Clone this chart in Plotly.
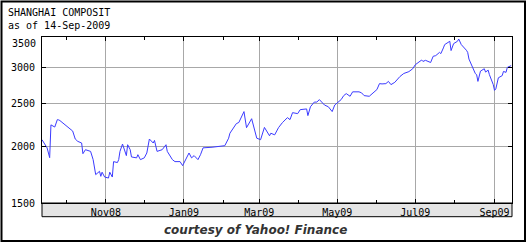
import plotly.graph_objects as go
import math

dates = [
    "2008-09-12", "2008-09-16", "2008-09-18", "2008-09-19", "2008-09-22", "2008-09-24",
    "2008-09-25", "2008-09-26", "2008-10-06", "2008-10-08", "2008-10-10", "2008-10-13",
    "2008-10-14", "2008-10-16", "2008-10-20", "2008-10-22", "2008-10-24", "2008-10-27",
    "2008-10-28", "2008-10-29", "2008-10-31", "2008-11-03", "2008-11-04", "2008-11-06",
    "2008-11-07", "2008-11-10", "2008-11-11", "2008-11-12", "2008-11-14", "2008-11-17",
    "2008-11-18", "2008-11-20", "2008-11-21", "2008-11-25", "2008-11-26", "2008-11-28",
    "2008-12-01", "2008-12-03", "2008-12-05", "2008-12-08", "2008-12-09", "2008-12-11",
    "2008-12-15", "2008-12-18", "2008-12-19", "2008-12-23", "2008-12-25", "2008-12-29",
    "2008-12-31", "2009-01-05", "2009-01-07", "2009-01-09", "2009-01-12", "2009-01-14",
    "2009-01-16", "2009-01-20", "2009-01-23", "2009-02-02", "2009-02-05", "2009-02-06",
    "2009-02-09", "2009-02-11", "2009-02-13", "2009-02-16", "2009-02-17", "2009-02-19",
    "2009-02-23", "2009-02-27", "2009-03-02", "2009-03-05", "2009-03-09", "2009-03-10",
    "2009-03-13", "2009-03-16", "2009-03-19", "2009-03-23", "2009-03-25", "2009-03-27",
    "2009-03-31", "2009-04-02", "2009-04-07", "2009-04-08", "2009-04-10", "2009-04-13",
    "2009-04-15", "2009-04-17", "2009-04-21", "2009-04-24", "2009-04-27", "2009-04-29",
    "2009-05-04", "2009-05-06", "2009-05-08", "2009-05-11", "2009-05-13", "2009-05-18",
    "2009-05-20", "2009-05-22", "2009-05-26", "2009-06-01", "2009-06-02", "2009-06-03",
    "2009-06-05", "2009-06-08", "2009-06-10", "2009-06-12", "2009-06-15", "2009-06-18",
    "2009-06-19", "2009-06-22", "2009-06-26", "2009-06-29", "2009-07-01", "2009-07-06",
    "2009-07-07", "2009-07-09", "2009-07-13", "2009-07-15", "2009-07-17", "2009-07-20",
    "2009-07-21", "2009-07-23", "2009-07-24", "2009-07-28", "2009-07-29", "2009-07-31",
    "2009-08-03", "2009-08-04", "2009-08-06", "2009-08-10", "2009-08-11", "2009-08-12",
    "2009-08-14", "2009-08-17", "2009-08-18", "2009-08-19", "2009-08-21", "2009-08-24",
    "2009-08-25", "2009-08-27", "2009-08-28", "2009-08-31", "2009-09-01", "2009-09-02",
    "2009-09-04", "2009-09-07", "2009-09-08", "2009-09-10", "2009-09-11", "2009-09-14",
]
closes = [
    2076, 1990, 1893, 2240, 2215, 2301,
    2298, 2290, 2170, 2083, 2058, 2041,
    1932, 1972, 1955, 1874, 1735, 1765,
    1720, 1757, 1714, 1705, 1757, 1714,
    1855, 1846, 1874, 1955, 2030, 1913,
    2023, 1972, 1900, 1891, 1922, 1874,
    1891, 1939, 2083, 2041, 2068, 1955,
    1972, 2023, 1955, 1874, 1855, 1855,
    1817, 1939, 1891, 1913, 1874, 1922,
    1991, 1991, 1997, 2013, 2092, 2146,
    2208, 2254, 2268, 2361, 2398, 2208,
    2312, 2092, 2076, 2211, 2118, 2146,
    2128, 2208, 2265, 2325, 2301, 2385,
    2373, 2422, 2431, 2349, 2458, 2518,
    2518, 2550, 2480, 2458, 2398, 2480,
    2550, 2603, 2630, 2594, 2654, 2654,
    2640, 2603, 2594, 2685, 2740, 2768,
    2764, 2768, 2800, 2754, 2787, 2855,
    2871, 2916, 2944, 2988, 3050, 3125,
    3102, 3120, 3085, 3185, 3196, 3250,
    3229, 3325, 3382, 3440, 3280, 3399,
    3440, 3480, 3382, 3285, 3250, 3140,
    3050, 2914, 2899, 2800, 2952, 2988,
    2937, 2967, 2898, 2754, 2674, 2694,
    2852, 2884, 2947, 2933, 3008, 3036,
]
y_ticks = [1500, 2000, 2500, 3000, 3500]
title_line1 = "SHANGHAI COMPOSIT"
title_line2 = "as of 14-Sep-2009"
caption = "courtesy of Yahoo! Finance"

W, H = 528, 243
L, R, T, B = 42, 16, 37, 40
PW, PH = W - L - R, H - T - B


def px_x(px):
    return (px - L) / PW


def px_y(py):
    return (H - B - py) / PH


MONO = "DejaVu Sans Mono"

fig = go.Figure()
fig.add_trace(go.Scatter(x=dates, y=closes, mode="lines",
                         line=dict(color="#3b3bff", width=1), hoverinfo="skip"))

# top tick label is drawn a little lower (inside the frame), as in the original
tick_text = [str(v) if v != y_ticks[-1] else "" for v in y_ticks]

fig.update_layout(
    width=W, height=H,
    margin=dict(l=L, r=R, t=T, b=B, pad=0),
    paper_bgcolor="white", plot_bgcolor="white",
    showlegend=False,
    xaxis=dict(
        type="date",
        range=["2008-09-12", "2009-09-14 16:00"],
        tick0="2008-11-01", dtick="M2", tickformat="%b%y",
        showgrid=True, gridcolor="#a8a8a8", gridwidth=1,
        ticks="inside", ticklen=4, tickcolor="black",
        showline=True, linecolor="black", linewidth=1, mirror="ticks",
        minor=dict(dtick="M1", tick0="2008-10-01", ticks="inside", ticklen=3,
                   tickcolor="black", showgrid=False),
        tickfont=dict(family=MONO, size=10, color="black"),
        ticklabelstandoff=0,
        zeroline=False,
    ),
    yaxis=dict(
        type="log",
        range=[math.log10(1500), math.log10(1500) + PH / 448.6],
        tickvals=y_ticks, ticktext=tick_text,
        showgrid=True, gridcolor="#a8a8a8", gridwidth=1,
        ticks="inside", ticklen=4, tickcolor="black",
        showline=True, linecolor="black", linewidth=1, mirror="ticks",
        tickfont=dict(family=MONO, size=10, color="black"),
        ticklabelstandoff=4,
        zeroline=False,
    ),
    shapes=[
        dict(type="rect", xref="paper", yref="paper", layer="below",
             x0=0, x1=1, y0=px_y(216.7), y1=0,
             fillcolor="#e4e4e4", line=dict(color="black", width=1)),
        dict(type="rect", xref="paper", yref="paper", layer="above",
             x0=px_x(1.5), x1=px_x(525), y0=px_y(241), y1=px_y(1.5),
             fillcolor="rgba(0,0,0,0)", line=dict(color="black", width=2)),
    ],
    annotations=[
        dict(text=title_line1, xref="paper", yref="paper", x=px_x(6), y=px_y(13),
             xanchor="left", yanchor="middle", showarrow=False,
             font=dict(family=MONO, size=10, color="black")),
        dict(text=title_line2, xref="paper", yref="paper", x=px_x(6), y=px_y(25),
             xanchor="left", yanchor="middle", showarrow=False,
             font=dict(family=MONO, size=10, color="black")),
        dict(text=str(y_ticks[-1]), xref="paper", yref="paper", x=px_x(37.5), y=px_y(43),
             xanchor="right", yanchor="middle", showarrow=False,
             font=dict(family=MONO, size=10, color="black")),
        dict(text="<b><i>" + caption + "</i></b>", xref="paper", yref="paper",
             x=px_x(255), y=px_y(230), xanchor="center", yanchor="middle",
             showarrow=False,
             font=dict(family="DejaVu Sans", size=12, color="#333333")),
    ],
)

fig.write_html("out.html")
